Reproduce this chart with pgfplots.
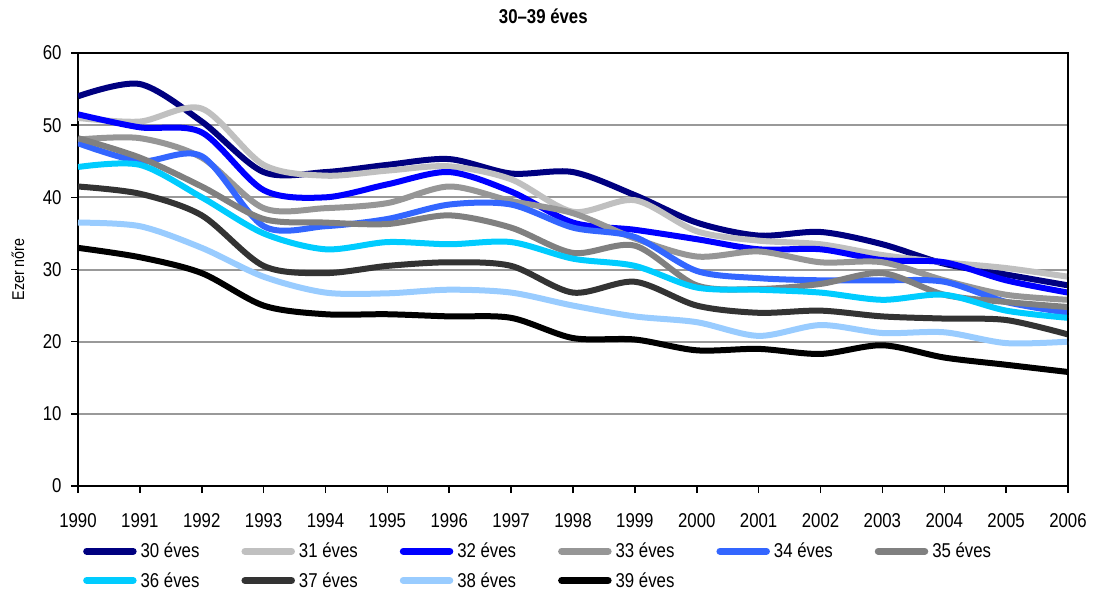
\documentclass[border=0pt]{standalone}
\usepackage{fontspec}
\setmainfont{Liberation Sans}[FakeStretch=0.84]
\usepackage{pgfplots}
\pgfplotsset{compat=1.18}
\definecolor{c30}{HTML}{000080}
\definecolor{c31}{HTML}{C0C0C0}
\definecolor{c32}{HTML}{0000FF}
\definecolor{c33}{HTML}{969696}
\definecolor{c34}{HTML}{3366FF}
\definecolor{c35}{HTML}{808080}
\definecolor{c36}{HTML}{00CCFF}
\definecolor{c37}{HTML}{333333}
\definecolor{c38}{HTML}{99CCFF}
\definecolor{c39}{HTML}{000000}
\definecolor{gridc}{HTML}{999999}
\begin{document}
\begin{tikzpicture}
\begin{axis}[
  at={(0,0)}, anchor=south west,
  scale only axis, width=990bp, height=433bp,
  xmin=1990, xmax=2006, ymin=0, ymax=60,
  xtick={1990,1991,...,2006}, ytick={0,10,...,60},
  xticklabel style={/pgf/number format/1000 sep={}, yshift=-17bp},
  yticklabel style={xshift=-6bp},
  /pgf/number format/assume math mode=true,
  tick label style={font=\fontsize{20bp}{23bp}\selectfont},
  tick align=outside, tick pos=left,
  major tick length=7bp,
  every tick/.style={black, line width=1.5bp},
  axis line style={black, line width=2.5bp},
  ymajorgrids, grid style={gridc, line width=2bp},
  ylabel={Ezer nőre},
  ylabel style={at={(axis description cs:-0.0606,0.5)}, anchor=center, font=\fontsize{17bp}{20bp}\selectfont},
  title={\textbf{30–39 éves}},
  title style={at={(axis description cs:0.47,1.072)}, anchor=center, font=\fontsize{20bp}{23bp}\selectfont},
  legend columns=6,
  legend style={at={(axis description cs:0.005,-0.127)}, anchor=north west, draw=none, fill=none,
    font=\fontsize{20bp}{23bp}\selectfont, inner sep=0pt, row sep=9bp,
    /tikz/every even column/.append style={column sep=40bp},
    /tikz/every odd column/.append style={column sep=2bp}},
  legend image code/.code={\draw[#1, line width=7bp, line cap=round] (3.5bp,0bp) -- (50bp,0bp);},
  every axis plot/.append style={line width=6bp, smooth, tension=0.5, line join=round},
]
\addplot[c30] coordinates {(1990,54.0)(1991,55.7)(1992,50.5)(1993,43.5)(1994,43.5)(1995,44.5)(1996,45.3)(1997,43.3)(1998,43.5)(1999,40.3)(2000,36.5)(2001,34.7)(2002,35.2)(2003,33.5)(2004,30.8)(2005,29.3)(2006,27.8)};
\addlegendentry{30 éves}
\addplot[c31] coordinates {(1990,51.0)(1991,50.5)(1992,52.3)(1993,44.5)(1994,43.0)(1995,43.7)(1996,44.3)(1997,42.5)(1998,38.0)(1999,39.6)(2000,35.3)(2001,34.0)(2002,33.5)(2003,32.0)(2004,31.0)(2005,30.2)(2006,29.0)};
\addlegendentry{31 éves}
\addplot[c32] coordinates {(1990,51.5)(1991,49.7)(1992,49.0)(1993,41.0)(1994,40.0)(1995,41.8)(1996,43.5)(1997,40.8)(1998,36.5)(1999,35.5)(2000,34.2)(2001,32.8)(2002,32.8)(2003,31.3)(2004,31.0)(2005,28.5)(2006,26.8)};
\addlegendentry{32 éves}
\addplot[c33] coordinates {(1990,48.0)(1991,48.2)(1992,45.5)(1993,38.5)(1994,38.5)(1995,39.2)(1996,41.5)(1997,39.5)(1998,37.8)(1999,34.3)(2000,31.8)(2001,32.5)(2002,31.0)(2003,31.0)(2004,28.5)(2005,26.5)(2006,25.8)};
\addlegendentry{33 éves}
\addplot[c34] coordinates {(1990,47.5)(1991,45.0)(1992,45.7)(1993,36.0)(1994,36.0)(1995,37.0)(1996,39.0)(1997,39.0)(1998,35.8)(1999,34.5)(2000,29.8)(2001,28.8)(2002,28.5)(2003,28.5)(2004,28.3)(2005,25.5)(2006,24.0)};
\addlegendentry{34 éves}
\addplot[c35] coordinates {(1990,48.2)(1991,45.5)(1992,41.5)(1993,37.0)(1994,36.5)(1995,36.3)(1996,37.5)(1997,35.8)(1998,32.3)(1999,33.3)(2000,27.8)(2001,27.3)(2002,28.0)(2003,29.5)(2004,26.5)(2005,25.5)(2006,24.8)};
\addlegendentry{35 éves}
\addplot[c36] coordinates {(1990,44.2)(1991,44.5)(1992,40.0)(1993,35.0)(1994,32.8)(1995,33.8)(1996,33.5)(1997,33.8)(1998,31.5)(1999,30.5)(2000,27.5)(2001,27.2)(2002,26.8)(2003,25.8)(2004,26.5)(2005,24.3)(2006,23.3)};
\addlegendentry{36 éves}
\addplot[c37] coordinates {(1990,41.5)(1991,40.5)(1992,37.5)(1993,30.5)(1994,29.5)(1995,30.5)(1996,31.0)(1997,30.5)(1998,26.8)(1999,28.3)(2000,25.0)(2001,24.0)(2002,24.3)(2003,23.5)(2004,23.2)(2005,23.0)(2006,21.0)};
\addlegendentry{37 éves}
\addplot[c38] coordinates {(1990,36.5)(1991,36.0)(1992,33.0)(1993,29.0)(1994,26.8)(1995,26.7)(1996,27.2)(1997,26.8)(1998,25.0)(1999,23.5)(2000,22.7)(2001,20.8)(2002,22.3)(2003,21.2)(2004,21.3)(2005,19.8)(2006,20.0)};
\addlegendentry{38 éves}
\addplot[c39] coordinates {(1990,33.0)(1991,31.7)(1992,29.5)(1993,25.0)(1994,23.8)(1995,23.8)(1996,23.5)(1997,23.3)(1998,20.5)(1999,20.3)(2000,18.8)(2001,19.0)(2002,18.3)(2003,19.5)(2004,17.8)(2005,16.8)(2006,15.8)};
\addlegendentry{39 éves}
\draw[black, line width=2.5bp] (rel axis cs:0,1) -- (rel axis cs:1,1) -- (rel axis cs:1,0);
\end{axis}
\pgfresetboundingbox
\useasboundingbox (-78bp,-106bp) rectangle (1016bp,486bp);
\end{tikzpicture}
\end{document}
